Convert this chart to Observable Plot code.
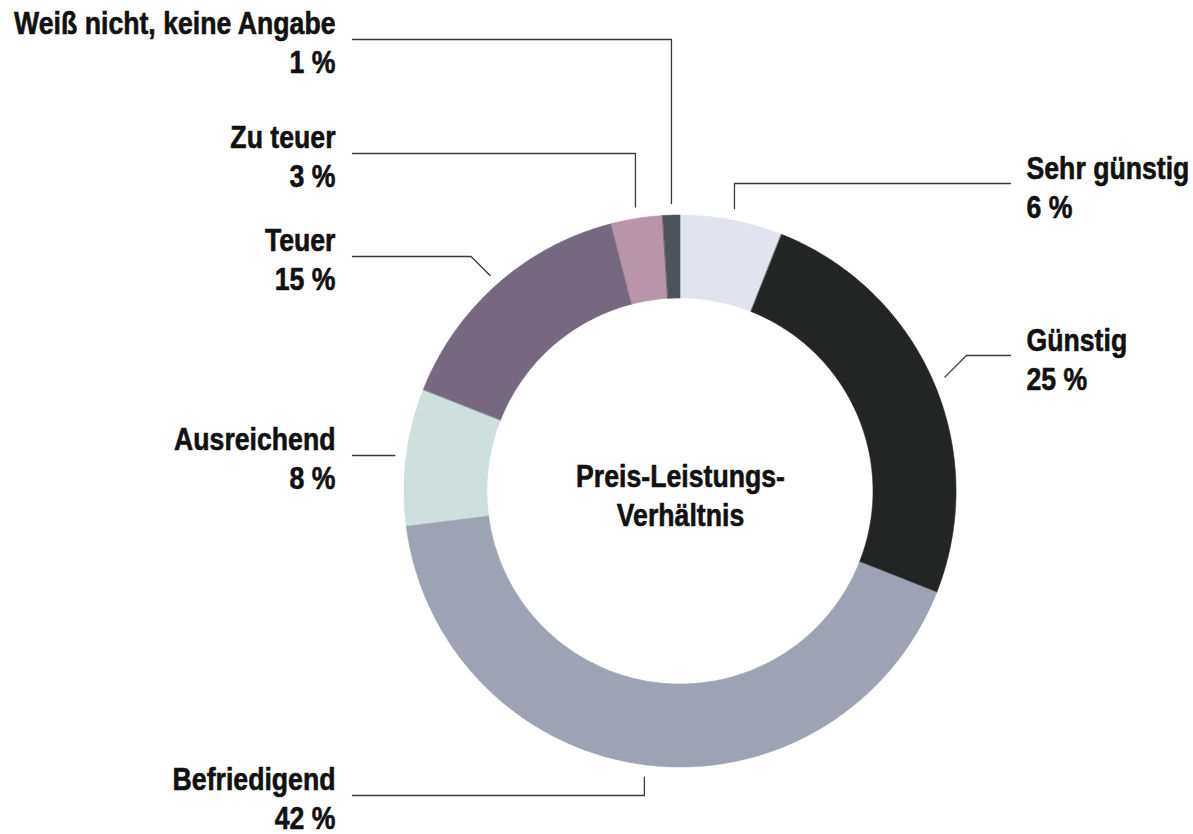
<!DOCTYPE html>
<html>
<head>
<meta charset="utf-8">
<script src="https://cdn.jsdelivr.net/npm/d3@7"></script>
<script src="https://cdn.jsdelivr.net/npm/@observablehq/plot@0.6"></script>
<style>
  html, body { margin: 0; padding: 0; background: #fff; }
  #chart svg { display: block; }
</style>
</head>
<body>
<div id="chart"></div>
<script>
// ---- data ----
const categories = ["Sehr günstig", "Günstig", "Befriedigend", "Ausreichend", "Teuer", "Zu teuer", "Weiß nicht, keine Angabe"];
const values = [6, 25, 42, 8, 15, 3, 1];
const colors = ["#e1e3ee", "#232524", "#9ea3b3", "#cfdfde", "#76687f", "#b895a8", "#4d545c"];
const centerTitle = ["Preis-Leistungs-", "Verhältnis"];

// ---- layout (separate from data) ----
const W = 1193, H = 834;
const layout = {
  cx: 680, cy: 491, outerR: 276, innerR: 193, anchorR: 288,
  leftTextX: 335, rightTextX: 1026, leftLineX: 352, rightLineX: 1010,
  lineGap: 39, textSqueeze: 0.86
};
const labelSide = ["right", "right", "left", "left", "left", "left", "left"];
const labelLineY = [183, 355, 795, 455, 256, 153, 39];
const leaderKind = ["vertical", "diagonal", "vertical", "straight", "diagonal", "vertical", "vertical"];

const font = "'Liberation Sans', Arial, Helvetica, sans-serif";

// ---- derived geometry ----
const total = d3.sum(values);
const {cx, cy, outerR, innerR, anchorR} = layout;
const pt = (a, r) => [cx + r * Math.sin(a), cy - r * Math.cos(a)];

const ring = [];
const leaders = [];
const labels = [];
let cum = 0;
categories.forEach((name, i) => {
  const a0 = cum / total * 2 * Math.PI;
  cum += values[i];
  const a1 = cum / total * 2 * Math.PI;
  const n = Math.max(2, Math.ceil((a1 - a0) * 180 / Math.PI * 2));
  for (let k = 0; k <= n; k++) {
    const a = a0 + (a1 - a0) * k / n;
    const [x1, y1] = pt(a, outerR);
    const [x2, y2] = pt(a, innerR);
    ring.push({name, x1, y1, x2, y2});
  }
  // leader line
  const am = (a0 + a1) / 2;
  const [ax, ay] = pt(am, anchorR);
  const ly = labelLineY[i];
  const side = labelSide[i];
  const endX = side === "left" ? layout.leftLineX : layout.rightLineX;
  const pts = [[ax, leaderKind[i] === "straight" ? ly : ay]];
  if (leaderKind[i] === "vertical") pts.push([ax, ly]);
  if (leaderKind[i] === "diagonal") {
    const d = Math.abs(ay - ly);
    pts.push([side === "left" ? ax - d : ax + d, ly]);
  }
  pts.push([endX, ly]);
  pts.forEach(([x, y]) => leaders.push({name, x, y}));
  // labels
  const tx = side === "left" ? layout.leftTextX : layout.rightTextX;
  const off = side === "left" ? 6 : 5;
  labels.push({text: name, x: tx, y: ly - off, anchor: side === "left" ? "end" : "start"});
  labels.push({text: `${values[i]} %`, x: tx, y: ly - off + layout.lineGap, anchor: side === "left" ? "end" : "start"});
});

const centerLabels = centerTitle.map((t, i) => ({text: t, x: cx, y: cy - 5 + i * layout.lineGap}));

const textOpts = {x: "x", y: "y", text: "text", lineAnchor: "bottom", fontSize: 31, fontWeight: "bold", fontFamily: font, fill: "#111", stroke: "#111", strokeWidth: 0.6};

const chart = Plot.plot({
  width: W,
  height: H,
  margin: 0,
  x: {domain: [0, W], range: [0, W], axis: null},
  y: {domain: [0, H], range: [0, H], axis: null},
  color: {domain: categories, range: colors},
  style: {background: "#fff", overflow: "visible"},
  marks: [
    Plot.area(ring, {x1: "x1", y1: "y1", x2: "x2", y2: "y2", z: "name", fill: "name", stroke: "name", strokeWidth: 0.6}),
    Plot.line(leaders, {x: "x", y: "y", z: "name", stroke: "#3a3a3a", strokeWidth: 1.3}),
    Plot.text(labels.filter(d => d.anchor === "end"), {...textOpts, textAnchor: "end"}),
    Plot.text(labels.filter(d => d.anchor === "start"), {...textOpts, textAnchor: "start"}),
    Plot.text(centerLabels, {...textOpts, textAnchor: "middle"})
  ]
});
// condensed look: squeeze each text horizontally around its own anchor
d3.select(chart).selectAll("text").each(function () {
  const t = this.getAttribute("transform") || "";
  this.setAttribute("transform", `${t} scale(${layout.textSqueeze},1)`);
});
document.getElementById("chart").appendChild(chart);
</script>
</body>
</html>
